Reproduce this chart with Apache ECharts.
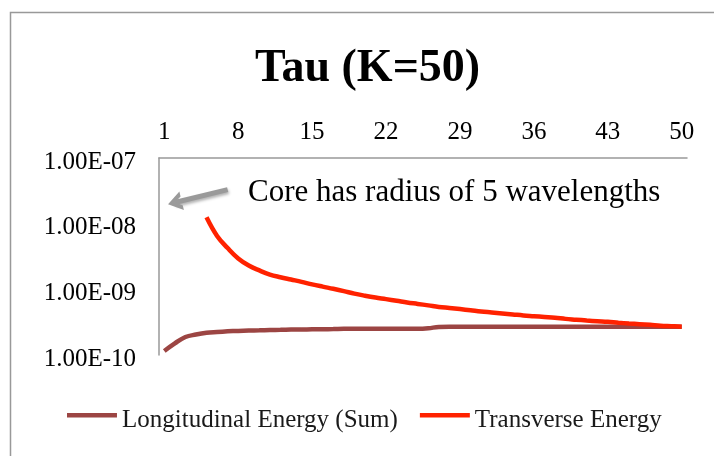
<!DOCTYPE html>
<html>
<head>
<meta charset="utf-8">
<script src="https://cdn.jsdelivr.net/npm/echarts@6/dist/echarts.min.js"></script>
<style>
  html, body { margin: 0; padding: 0; background: #fff; }
  #chart { width: 714px; height: 456px; }
</style>
</head>
<body>
<div id="chart"></div>
<script>
// Категории (K = 1..50)
const categories = [
    '1', '2', '3', '4', '5', '6', '7', '8', '9', '10',
    '11', '12', '13', '14', '15', '16', '17', '18', '19', '20',
    '21', '22', '23', '24', '25', '26', '27', '28', '29', '30',
    '31', '32', '33', '34', '35', '36', '37', '38', '39', '40',
    '41', '42', '43', '44', '45', '46', '47', '48', '49', '50'
];

const longitudinal = [
    1.15e-10, 1.5e-10, 1.88e-10, 2.05e-10, 2.18e-10, 2.24e-10, 2.29e-10, 2.33e-10, 2.36e-10, 2.38e-10,
    2.4e-10, 2.42e-10, 2.44e-10, 2.45e-10, 2.46e-10, 2.47e-10, 2.48e-10, 2.5e-10, 2.5e-10, 2.5e-10,
    2.5e-10, 2.5e-10, 2.5e-10, 2.5e-10, 2.5e-10, 2.55e-10, 2.68e-10, 2.7e-10, 2.7e-10, 2.7e-10,
    2.7e-10, 2.7e-10, 2.7e-10, 2.7e-10, 2.7e-10, 2.7e-10, 2.7e-10, 2.7e-10, 2.7e-10, 2.7e-10,
    2.7e-10, 2.7e-10, 2.7e-10, 2.7e-10, 2.7e-10, 2.7e-10, 2.7e-10, 2.7e-10, 2.7e-10, 2.7e-10
];

const transverse = [
    '-', '-', '-', '-', 1.25e-8, 6.5e-9, 4.25e-9, 2.95e-9, 2.3e-9, 1.94e-9,
    1.68e-9, 1.53e-9, 1.41e-9, 1.3e-9, 1.19e-9, 1.1e-9, 1.02e-9, 9.4e-10, 8.6e-10, 8.0e-10,
    7.5e-10, 7.1e-10, 6.7e-10, 6.3e-10, 6.0e-10, 5.7e-10, 5.4e-10, 5.2e-10, 5.0e-10, 4.8e-10,
    4.6e-10, 4.45e-10, 4.3e-10, 4.15e-10, 4.0e-10, 3.9e-10, 3.8e-10, 3.7e-10, 3.55e-10, 3.45e-10,
    3.35e-10, 3.27e-10, 3.2e-10, 3.1e-10, 3.02e-10, 2.95e-10, 2.88e-10, 2.8e-10, 2.75e-10, 2.7e-10
];

// Стрелка-аннотация (координаты в данных: [категория, значение])
const arrowFrom = ['7', 3.3e-8];
const arrowTo = ['2', 2.1e-8];
const noteText = 'Core has radius of 5 wavelengths';

const FONT = '"Liberation Serif", "DejaVu Serif", serif';

// Иконка легенды: толстая линия в верхней части рамки
const LEGEND_ICON = 'path://M0,0 L50,0 L50,4.5 L0,4.5 Z M0,15 L0.01,15 L0.01,15.01 L0,15.01 Z';

function formatExp(v) {
    const parts = Number(v).toExponential(2).toUpperCase().split('E');
    const exp = parseInt(parts[1], 10);
    const sign = exp < 0 ? '-' : '+';
    return '{v|' + parts[0] + 'E' + sign + String(Math.abs(exp)).padStart(2, '0') + '}';
}

const chart = echarts.init(document.getElementById('chart'));

const option = {
    animation: false,
    backgroundColor: '#fff',
    title: {
        text: 'Tau (K=50)',
        left: 250,
        top: 41,
        textStyle: {
            fontFamily: FONT,
            fontSize: 46,
            fontWeight: 'bold',
            color: '#000'
        }
    },
    legend: {
        left: 62,
        top: 403,
        itemWidth: 50,
        itemHeight: 15,
        itemGap: 22,
        icon: LEGEND_ICON,
        textStyle: {
            fontFamily: FONT,
            fontSize: 25,
            color: '#1a1a1a'
        },
        data: ['Longitudinal Energy (Sum)', 'Transverse Energy']
    },
    grid: {
        left: 159,
        right: 27,
        top: 158,
        bottom: 101
    },
    xAxis: {
        type: 'category',
        position: 'top',
        data: categories,
        boundaryGap: true,
        axisLine: {
            lineStyle: { color: '#999', width: 1.5 }
        },
        axisTick: { show: false },
        axisLabel: {
            interval: 6,
            margin: 13,
            fontFamily: FONT,
            fontSize: 25,
            color: '#000'
        },
        splitLine: { show: false }
    },
    yAxis: {
        type: 'log',
        logBase: 10,
        min: 1e-10,
        max: 1e-7,
        axisLine: {
            show: true,
            lineStyle: { color: '#999', width: 1.5 }
        },
        axisTick: { show: false },
        splitLine: { show: false },
        axisLabel: {
            margin: 23,
            formatter: formatExp,
            rich: {
                v: {
                    fontFamily: FONT,
                    fontSize: 25,
                    color: '#000',
                    padding: [8, 0, 0, 0]
                }
            }
        }
    },
    series: [
        {
            name: 'Longitudinal Energy (Sum)',
            type: 'line',
            data: longitudinal,
            symbol: 'none',
            smooth: 0.4,
            lineStyle: { color: '#9c4543', width: 4.5 },
            itemStyle: { color: '#9c4543' },
            markLine: {
                silent: true,
                symbol: ['none', 'path://M5,0 L10,8 L7.4,8 L5,4 L2.6,8 L0,8 Z'],
                symbolSize: [19, 14],
                label: { show: false },
                lineStyle: {
                    type: 'solid',
                    color: '#9a9a9a',
                    width: 5,
                    shadowBlur: 3,
                    shadowColor: 'rgba(0,0,0,0.3)',
                    shadowOffsetX: 1,
                    shadowOffsetY: 2
                },
                itemStyle: { color: '#9a9a9a' },
                data: [[{ coord: arrowFrom }, { coord: arrowTo }]]
            }
        },
        {
            name: 'Transverse Energy',
            type: 'line',
            data: transverse,
            symbol: 'none',
            smooth: 0.4,
            lineStyle: { color: '#ff2200', width: 4.5 },
            itemStyle: { color: '#ff2200' }
        }
    ],
    graphic: [
        {
            type: 'rect',
            shape: { x: 10.5, y: 12.5, width: 720, height: 460 },
            style: { fill: 'none', stroke: '#999', lineWidth: 1.5 },
            silent: true,
            z: -1
        },
        {
            type: 'text',
            left: 248,
            top: 177,
            style: {
                text: noteText,
                font: '31px ' + FONT,
                fill: '#000'
            },
            silent: true
        }
    ]
};

chart.setOption(option);
</script>
</body>
</html>
